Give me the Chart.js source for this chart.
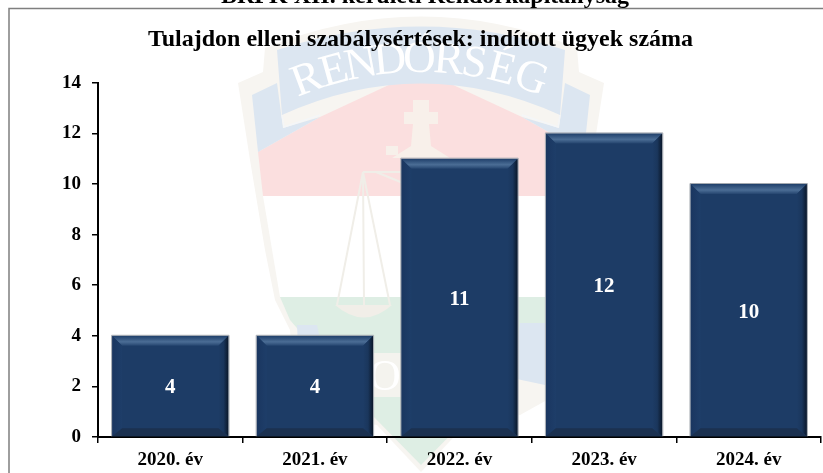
<!DOCTYPE html>
<html><head><meta charset="utf-8">
<style>html,body{margin:0;padding:0;background:#fff;overflow:hidden}
#wrap{position:absolute;left:0;top:0;width:823px;height:473px}</style>
<script src="https://cdn.jsdelivr.net/npm/chart.js@4"></script></head>
<body><div id="wrap"><canvas id="c" width="823" height="473"></canvas></div>
<script>
const categories=["2020. év","2021. év","2022. év","2023. év","2024. év"];
const cases=[4,4,11,12,10];
const yTicks=[0,2,4,6,8,10,12,14];
const chartTitle="Tulajdon elleni szabálysértések: indított ügyek száma";
const pageHeading="BRFK XII. kerületi Rendőrkapitányság";
const serif='"Liberation Serif","Times New Roman",serif';
function poly(ctx,pts,fill,stroke,lw){ctx.beginPath();pts.forEach((p,i)=>i?ctx.lineTo(p[0],p[1]):ctx.moveTo(p[0],p[1]));ctx.closePath();if(fill){ctx.fillStyle=fill;ctx.fill();}if(stroke){ctx.strokeStyle=stroke;ctx.lineWidth=lw||1;ctx.stroke();}}
function mirror(pts){return pts.map(p=>[842-p[0],p[1]]);}
const backdrop={id:'backdrop',beforeDraw(ch){const c=ch.ctx;c.save();
 c.fillStyle='#fff';c.fillRect(0,0,823,473);
 // emblem: outer beige shield
 c.fillStyle='#f7f5f1';c.beginPath();c.moveTo(238,83);c.lineTo(263,72);c.lineTo(265,48);c.quadraticCurveTo(421,-15,577,48);c.lineTo(579,72);c.lineTo(604,83);
 [[592,160],[577,250],[567,300],[552,330],[547,400],[520,415],[465,425],[421,472],[377,425],[320,415],[295,400],[290,330],[275,300],[265,250],[250,160]].forEach(p=>c.lineTo(p[0],p[1]));c.closePath();c.fill();
 // red field
 c.fillStyle='#fbdfdf';c.beginPath();c.moveTo(258,152);c.lineTo(320,117);c.lineTo(421,70);c.lineTo(522,117);c.lineTo(584,152);c.lineTo(579,196);c.lineTo(263,196);c.closePath();c.fill();
 // white field, green field
 poly(c,[[263,196],[579,196],[562,297],[280,297]],'#ffffff');
 poly(c,[[280,297],[562,297],[552,320],[470,415],[421,465],[372,415],[290,320]],'#deeee4');
 // side flaps of the top ribbon
 const flap=[[252,95],[277,83],[283,128],[320,117],[258,152]];
 poly(c,flap,'#dce6f1');poly(c,mirror(flap),'#dce6f1');
 // top ribbon
 c.fillStyle='#dce6f1';c.beginPath();c.moveTo(277,50);c.quadraticCurveTo(421,3,565,50);c.lineTo(560,115);c.quadraticCurveTo(421,52,282,115);c.closePath();c.fill();
 c.strokeStyle='#f4f6f8';c.lineWidth=1.5;c.beginPath();c.moveTo(282,115);c.lineTo(284,127);c.lineTo(320,115);c.stroke();c.beginPath();c.moveTo(560,115);c.lineTo(558,127);c.lineTo(522,115);c.stroke();
 // ribbon lettering on an arc
 const word='RENDŐRSÉG'.split('');const angles=[-.357,-.27,-.185,-.095,-.005,.085,.165,.25,.345];
 c.fillStyle='#ffffff';c.font='45px '+serif;c.textAlign='center';c.textBaseline='middle';
 word.forEach((w,i)=>{const a=angles[i];c.save();c.translate(421+325*Math.sin(a),385-325*Math.cos(a));c.rotate(a);c.fillText(w,0,0);c.restore();});
 // cross and mound
 poly(c,[[413,100],[429,100],[429,112],[438,112],[438,124],[429,124],[431,146],[450,158],[392,158],[411,146],[413,124],[404,124],[404,112],[413,112]],'#f8f0ea');
 poly(c,[[386,146],[398,146],[398,155],[386,155]],'#f7f0ea');
 // scales
 c.strokeStyle='#f0eee8';c.lineWidth=2;c.beginPath();
 c.moveTo(363,172);c.lineTo(403,172);c.moveTo(376,172);c.lineTo(403,183);
 c.moveTo(363,172);c.lineTo(337,305);c.moveTo(363,172);c.lineTo(364,305);c.moveTo(363,172);c.lineTo(390,305);c.stroke();
 c.fillStyle='#f1eee8';c.beginPath();c.moveTo(335,305);c.quadraticCurveTo(364,330,392,305);c.closePath();c.fill();
 // lower ribbon
 poly(c,[[297,325],[317,325],[330,385],[300,385]],'#dce6f1');
 poly(c,mirror([[297,323],[322,323],[330,378],[297,385]]),'#dce6f1');
 poly(c,[[355,353],[490,353],[490,397],[355,397]],'#f4f3ee');
 c.fillStyle='#fff';c.font='44px '+serif;c.fillText('O',385,378);
 c.restore();
 // frame
 c.save();c.strokeStyle='#7f7f7f';c.lineWidth=1.5;c.beginPath();c.moveTo(9,473);c.lineTo(9,8.5);c.lineTo(823,8.5);c.stroke();c.restore();
 c.save();c.fillStyle='#000';c.font='bold 24px '+serif;c.textAlign='center';c.textBaseline='alphabetic';c.fillText(pageHeading,425,3);c.restore();
}};
const bevel={id:'bevel',afterDatasetsDraw(ch){const c=ch.ctx;ch.getDatasetMeta(0).data.forEach((b,i)=>{
 const l=b.x-b.width/2,r=b.x+b.width/2,t=b.y,bt=b.base,s=10,sb=8;c.save();
 let g=c.createLinearGradient(0,t,0,t+s);g.addColorStop(0,'#1f3f6a');g.addColorStop(.6,'#4b6d95');g.addColorStop(1,'#25456f');
 poly(c,[[l,t],[r,t],[r-s,t+s],[l+s,t+s]],g);
 g=c.createLinearGradient(l,0,l+s,0);g.addColorStop(0,'#1a3660');g.addColorStop(1,'#1e3e69');
 poly(c,[[l,t],[l+s,t+s],[l+s,bt-sb],[l,bt]],g);
 g=c.createLinearGradient(r-s,0,r,0);g.addColorStop(0,'#1d3c66');g.addColorStop(.5,'#1a365c');g.addColorStop(1,'#0a1729');
 poly(c,[[r,t],[r-s,t+s],[r-s,bt-sb],[r,bt]],g);
 poly(c,[[l,bt],[l+s,bt-sb],[r-s,bt-sb],[r,bt]],'#1b3150');
 c.strokeStyle='#a4a9b0';c.lineWidth=1;c.beginPath();c.moveTo(l-.5,bt);c.lineTo(l-.5,t-.5);c.lineTo(r+.5,t-.5);c.lineTo(r+.5,bt);c.stroke();
 c.restore();
 c.save();c.fillStyle='#fff';c.font='bold 21px '+serif;c.textAlign='center';c.textBaseline='middle';
 c.fillText(String(cases[i]),b.x,(t+bt)/2+2);c.restore();
});}};
new Chart(document.getElementById('c'),{type:'bar',
 data:{labels:categories,datasets:[{data:cases,backgroundColor:'#1d3c66',borderWidth:0,categoryPercentage:.805,barPercentage:1}]},
 plugins:[backdrop,bevel],
 options:{responsive:false,animation:false,
  layout:{padding:{left:20,top:25,right:2,bottom:0}},
  plugins:{legend:{display:false},tooltip:{enabled:false},
   title:{display:true,text:chartTitle,color:'#000',font:{family:serif,weight:'bold',size:24,lineHeight:1.2},padding:{top:0,bottom:29}}},
  scales:{
   x:{afterFit(a){a.height=36;},grid:{drawOnChartArea:false,color:'#000',lineWidth:1.5,tickLength:6,offset:true},border:{color:'#000',width:2},
      ticks:{color:'#000',font:{family:serif,weight:'bold',size:19},padding:6,maxRotation:0}},
   y:{min:0,max:14,afterBuildTicks(a){a.ticks=yTicks.map(v=>({value:v}));},
      afterFit(a){a.width=78;},
      grid:{drawOnChartArea:false,color:'#000',lineWidth:1.5,tickLength:6},border:{color:'#000',width:2},
      ticks:{color:'#000',font:{family:serif,weight:'bold',size:19},padding:11}}
  }}});
</script></body></html>
